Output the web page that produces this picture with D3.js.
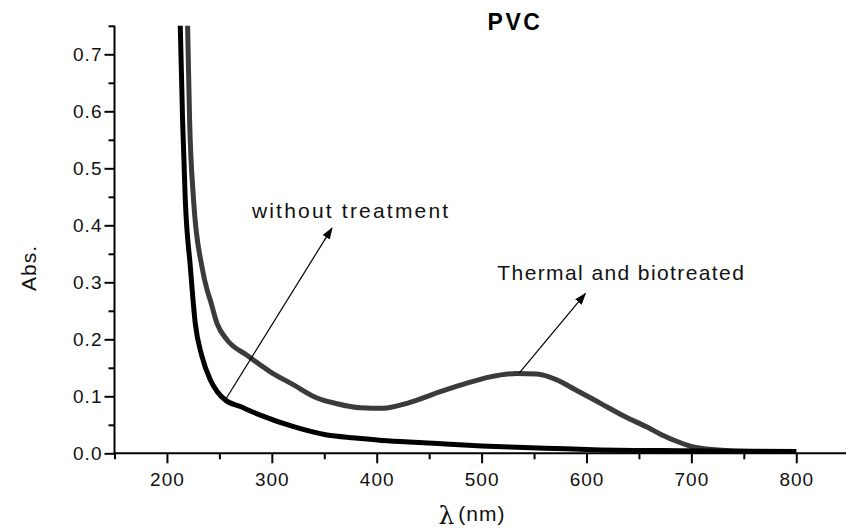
<!DOCTYPE html>
<html>
<head>
<meta charset="utf-8">
<script src="https://cdn.jsdelivr.net/npm/d3@7"></script>
<style>
  html, body { margin: 0; padding: 0; background: #fff; }
  svg { display: block; font-family: "Liberation Sans", Arial, sans-serif; }
</style>
</head>
<body>
<svg id="chart" width="846" height="532"></svg>
<script>
// ---- data ----
const wavelengthUntreated = [209, 212.7, 214.9, 217.5, 222.3, 227.0, 233.4, 241.3, 248, 255.6, 270, 289.0, 320.8, 352.6, 379.6, 410, 454.2, 500, 533.7, 580, 613.2, 650, 689.4, 740, 800];
const absUntreated        = [0.90, 0.75, 0.585, 0.444, 0.327, 0.228, 0.170, 0.129, 0.108, 0.0935, 0.082, 0.067, 0.0467, 0.032, 0.027, 0.022, 0.0175, 0.013, 0.0105, 0.008, 0.006, 0.005, 0.0046, 0.0035, 0.003];

const wavelengthTreated = [217, 219.7, 221.6, 225.4, 233.4, 238.2, 241.3, 247.7, 257.3, 276.3, 298.5, 320.8, 343.1, 362.1, 384.3, 406.6, 428.9, 460.6, 486.1, 508.3, 533.7, 552.8, 570, 589, 613, 637, 657.7, 670, 689, 700, 712, 737.1, 770, 800];
const absTreated        = [0.90, 0.75, 0.585, 0.444, 0.327, 0.287, 0.269, 0.228, 0.199, 0.172, 0.143, 0.120, 0.097, 0.087, 0.080, 0.079, 0.0877, 0.108, 0.123, 0.134, 0.140, 0.139, 0.130, 0.112, 0.088, 0.064, 0.046, 0.034, 0.019, 0.012, 0.008, 0.0046, 0.0035, 0.003];

const xMajorTicks = [200, 300, 400, 500, 600, 700, 800];
const xMinorTicks = [150, 250, 350, 450, 550, 650, 750];
const yMajorTicks = [0.0, 0.1, 0.2, 0.3, 0.4, 0.5, 0.6, 0.7];
const yMinorTicks = [0.05, 0.15, 0.25, 0.35, 0.45, 0.55, 0.65, 0.75];

const chartTitle = "PVC";
const yTitle = "Abs.";
const labelUntreated = "without treatment";
const labelTreated = "Thermal and biotreated";
// annotation anchors [wavelength, abs]
const arrowUntreated = [[255.6, 0.0935], [357.3, 0.395]];
const arrowTreated   = [[536, 0.141], [598.9, 0.28]];
const textUntreatedAt = [281, 0.413];
const textTreatedAt   = [515, 0.304];

// ---- layout ----
const svg = d3.select("#chart");
const x = d3.scaleLinear().domain([150, 850]).range([114.5, 848.7]);
const y = d3.scaleLinear().domain([0, 0.75]).range([453.3, 25.8]);

const defs = svg.append("defs");
defs.append("clipPath").attr("id", "plotclip")
  .append("rect").attr("x", 100).attr("y", y(0.75)).attr("width", 760).attr("height", y(0) - y(0.75) + 10);
defs.append("marker").attr("id", "arrowhead")
  .attr("viewBox", "0 0 10 10").attr("refX", 9).attr("refY", 5)
  .attr("markerWidth", 12).attr("markerHeight", 12).attr("markerUnits", "userSpaceOnUse")
  .attr("orient", "auto")
  .append("path").attr("d", "M0,1.5 L10,5 L0,8.5 Z").attr("fill", "#000");

// axes
const axisColor = "#000";
const xAxisG = svg.append("g").attr("transform", `translate(0,${y(0)})`);
xAxisG.call(d3.axisBottom(x).tickValues(xMajorTicks).tickSize(10).tickFormat(d3.format("d")));
xAxisG.append("g").call(d3.axisBottom(x).tickValues(xMinorTicks).tickSize(6).tickFormat(""));
xAxisG.selectAll(".domain").remove();
xAxisG.append("line").attr("x1", x(150)).attr("x2", 846).attr("stroke", axisColor).attr("stroke-width", 2);

const yAxisG = svg.append("g").attr("transform", `translate(${x(150)},0)`);
yAxisG.call(d3.axisLeft(y).tickValues(yMajorTicks).tickSize(10).tickFormat(d3.format(".1f")));
yAxisG.append("g").call(d3.axisLeft(y).tickValues(yMinorTicks).tickSize(6).tickFormat(""));
yAxisG.selectAll(".domain").remove();
yAxisG.append("line").attr("y1", y(0) + 1).attr("y2", y(0.75)).attr("stroke", axisColor).attr("stroke-width", 2);

svg.selectAll(".tick line").attr("stroke", axisColor).attr("stroke-width", 2);
svg.selectAll(".tick text").attr("fill", "#111").style("font-size", "19px").style("letter-spacing", "1px");
xAxisG.selectAll(".tick text").attr("dy", "1.05em");
yAxisG.selectAll(".tick text").attr("dx", "0.05em");

// curves
const line = d3.line().x(d => x(d[0])).y(d => y(d[1])).curve(d3.curveMonotoneX);
const plot = svg.append("g").attr("clip-path", "url(#plotclip)");
plot.append("path")
  .datum(d3.zip(wavelengthTreated, absTreated))
  .attr("d", line).attr("fill", "none").attr("stroke", "#3b3b3b").attr("stroke-width", 5)
  .attr("stroke-linejoin", "round");
plot.append("path")
  .datum(d3.zip(wavelengthUntreated, absUntreated))
  .attr("d", line).attr("fill", "none").attr("stroke", "#000").attr("stroke-width", 5)
  .attr("stroke-linejoin", "round");

// annotations
[arrowUntreated, arrowTreated].forEach(a => {
  svg.append("line")
    .attr("x1", x(a[0][0])).attr("y1", y(a[0][1]))
    .attr("x2", x(a[1][0])).attr("y2", y(a[1][1]))
    .attr("stroke", "#000").attr("stroke-width", 1.2)
    .attr("marker-end", "url(#arrowhead)");
});
svg.append("text").attr("x", x(textUntreatedAt[0])).attr("y", y(textUntreatedAt[1]))
  .style("font-size", "21px").style("letter-spacing", "2.2px").attr("fill", "#111").text(labelUntreated);
svg.append("text").attr("x", x(textTreatedAt[0])).attr("y", y(textTreatedAt[1]))
  .style("font-size", "21px").style("letter-spacing", "1.4px").attr("fill", "#111").text(labelTreated);

// titles
svg.append("text").attr("x", 515).attr("y", 30).attr("text-anchor", "middle")
  .style("font-size", "23px").style("font-weight", "bold").style("letter-spacing", "2.5px").text(chartTitle);
svg.append("text").attr("transform", "translate(36,268) rotate(-90)").attr("text-anchor", "middle")
  .style("font-size", "21px").style("letter-spacing", "1px").attr("fill", "#111").text(yTitle);
const xt = svg.append("text").attr("x", 472).attr("y", 521).attr("text-anchor", "middle").attr("fill", "#111");
xt.append("tspan").style("font-size", "25px").style("font-family", "'DejaVu Serif', serif").attr("dy", 3).text("λ");
xt.append("tspan").style("font-size", "21px").style("letter-spacing", "1px").attr("dx", 4).attr("dy", -3).text("(nm)");
</script>
</body>
</html>
